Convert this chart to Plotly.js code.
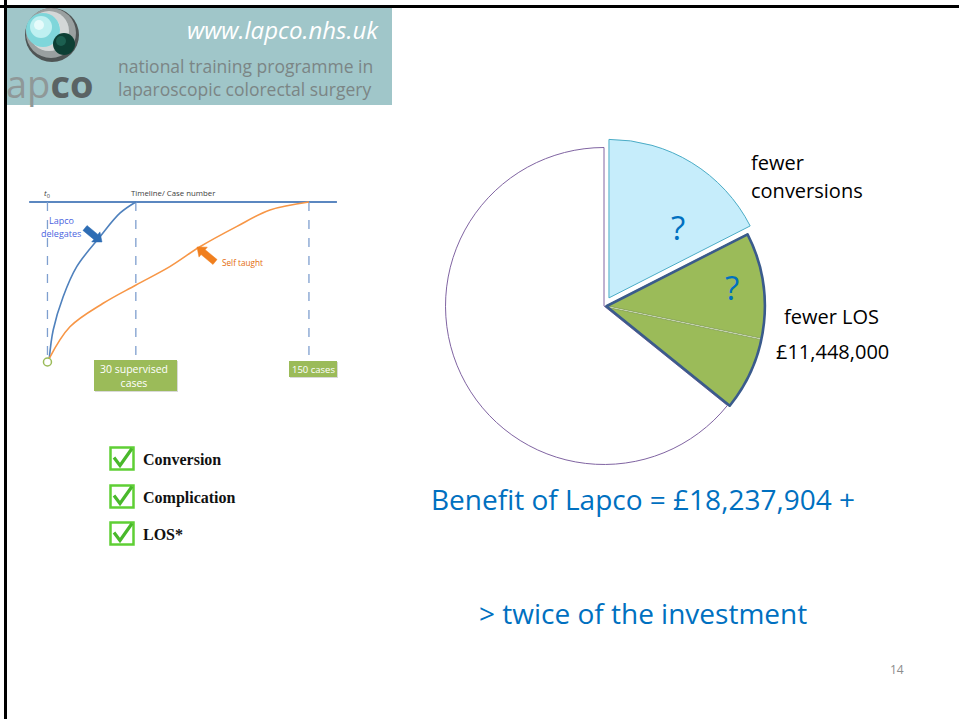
<!DOCTYPE html>
<html>
<head>
<meta charset="utf-8">
<script src="https://cdn.plot.ly/plotly-3.0.1.min.js"></script>
<style>html,body{margin:0;padding:0;background:#fff;}#chart{width:959px;height:719px;}</style>
</head>
<body>
<div id="chart"></div>
<script>
// ---------- data ----------
const sliceLabels = ['fewer conversions', 'fewer LOS (part 1)', 'fewer LOS (part 2)', 'remaining'];
const sliceShares = [17.5, 10.8, 7.5, 64.2];
const outlineLabels = ['fewer conversions', 'fewer LOS', 'remaining'];
const outlineShares = [17.5, 18.3, 64.2];
const losSaving = '£11,448,000';
const benefitText = 'Benefit of Lapco = £18,237,904 +';
const investText = '> twice of the investment';

// learning-curve schematic (x: timeline units, t0 = 0, 150 cases = 100; y: proficiency 0-100)
const lapcoX = [0.7, 2.2, 6.0, 11.2, 20.1, 27.7, 33.8];
const lapcoY = [2.3, 20, 40.8, 59.6, 78.3, 93, 100];
const selfX = [0.7, 8.6, 21.3, 33.7, 46.8, 58.3, 72.3, 85.1, 100];
const selfY = [2.3, 22, 36.7, 48, 59.6, 72, 84.6, 95, 100];
const milestoneX = [0, 33.8, 100];
const milestoneLabels = ['30 supervised<br>cases', '150 cases'];
const checkItems = ['Conversion', 'Complication', 'LOS*'];

// ---------- helpers ----------
const W = 959, H = 719;
const px = x => x / W;
const py = y => 1 - y / H;
function rectPx(x0, y0, x1, y1, fill, lineColor, lw) {
  return {type: 'rect', xref: 'paper', yref: 'paper', x0: px(x0), x1: px(x1), y0: py(y1), y1: py(y0),
    fillcolor: fill, line: {color: lineColor || 'rgba(0,0,0,0)', width: lw || 0}, layer: 'above'};
}
function linePx(x0, y0, x1, y1, color, w, dash) {
  return {type: 'line', xref: 'paper', yref: 'paper', x0: px(x0), x1: px(x1), y0: py(y0), y1: py(y1),
    line: {color: color, width: w, dash: dash || 'solid'}, layer: 'above'};
}
function circlePx(cx, cy, r, fill, lineColor, lw) {
  return {type: 'circle', xref: 'paper', yref: 'paper', x0: px(cx - r), x1: px(cx + r), y0: py(cy + r), y1: py(cy - r),
    fillcolor: fill, line: {color: lineColor || 'rgba(0,0,0,0)', width: lw || 0}, layer: 'above'};
}
function pathPx(pts, fill, lineColor, lw, closed) {
  let d = pts.map((p, i) => (i ? 'L' : 'M') + px(p[0]).toFixed(5) + ',' + py(p[1]).toFixed(5)).join(' ');
  if (closed) d += ' Z';
  return {type: 'path', xref: 'paper', yref: 'paper', path: d, fillcolor: fill || 'rgba(0,0,0,0)',
    line: {color: lineColor || 'rgba(0,0,0,0)', width: lw || 0}, layer: 'above'};
}
function blockArrow(x1, y1, x2, y2, sw, hw, hl, color) {
  const dx = x2 - x1, dy = y2 - y1, L = Math.hypot(dx, dy);
  const ux = dx / L, uy = dy / L, nx = -uy, ny = ux;
  const bx = x2 - ux * hl, by = y2 - uy * hl;
  const pts = [
    [x1 + nx * sw, y1 + ny * sw], [bx + nx * sw, by + ny * sw], [bx + nx * hw, by + ny * hw],
    [x2, y2], [bx - nx * hw, by - ny * hw], [bx - nx * sw, by - ny * sw], [x1 - nx * sw, y1 - ny * sw]
  ];
  return pathPx(pts, color, color, 0.5, true);
}
function textPx(x, y, text, size, color, opts, family) {
  return Object.assign({xref: 'paper', yref: 'paper', x: px(x), y: py(y), text: text, showarrow: false,
    xanchor: 'left', yanchor: 'middle', font: {size: size, color: color, family: family || 'Open Sans, sans-serif'}}, opts || {});
}

// ---------- pie ----------
const pieDomain = {x: [px(436), px(772)], y: [py(474), py(138)]};
const pieMain = {
  type: 'pie', labels: sliceLabels, values: sliceShares, sort: false, direction: 'clockwise', rotation: 0,
  domain: pieDomain, pull: [0.06, 0.015, 0.015, 0], textinfo: 'none', hoverinfo: 'skip', showlegend: false,
  marker: {colors: ['#c6edfb', '#9bbb59', '#9bbb59', '#ffffff'],
    line: {color: ['#4bacc6', '#7d9a52', '#7d9a52', '#8064a2'], width: [1, 0.8, 0.8, 1]}}
};
const pieOutline = {
  type: 'pie', labels: outlineLabels, values: outlineShares, sort: false, direction: 'clockwise', rotation: 0,
  domain: pieDomain, pull: [0.06, 0.015, 0], textinfo: 'none', hoverinfo: 'skip', showlegend: false,
  marker: {colors: ['rgba(0,0,0,0)', 'rgba(0,0,0,0)', 'rgba(0,0,0,0)'],
    line: {color: ['rgba(0,0,0,0)', '#3a5b8c', 'rgba(0,0,0,0)'], width: [0, 2.6, 0]}}
};

// ---------- learning curves ----------
const lapcoTrace = {type: 'scatter', mode: 'lines', x: lapcoX, y: lapcoY, xaxis: 'x', yaxis: 'y',
  line: {color: '#4f81bd', width: 1.6, shape: 'spline'}, hoverinfo: 'skip', showlegend: false};
const selfTrace = {type: 'scatter', mode: 'lines', x: selfX, y: selfY, xaxis: 'x', yaxis: 'y',
  line: {color: '#f79646', width: 1.6, shape: 'spline'}, hoverinfo: 'skip', showlegend: false};
const originTrace = {type: 'scatter', mode: 'markers', x: [0], y: [0], xaxis: 'x', yaxis: 'y',
  marker: {symbol: 'circle-open', size: 8, color: '#9bbb59', line: {width: 1.5}}, hoverinfo: 'skip', showlegend: false};

const shapes = [];
const annotations = [];

// slide frame
shapes.push(linePx(0, 6.5, 959, 6.5, '#000', 3));
shapes.push(linePx(5.5, 0, 5.5, 719, '#000', 3));

// header banner + logo
shapes.push(rectPx(7, 8, 392, 105, '#a0c6c9'));
shapes.push(circlePx(52, 35, 27, '#4f5555'));
shapes.push(circlePx(51, 33, 25, '#9aa0a0'));
shapes.push(circlePx(49, 31, 20, '#d4d8d8'));
shapes.push(circlePx(47, 29, 13, '#f3f5f5'));
shapes.push(circlePx(43, 30, 17, '#7fd6da'));
shapes.push(circlePx(41, 27, 11, '#bff0f1'));
shapes.push(circlePx(39, 25, 5, '#e6fbfb'));
shapes.push(circlePx(64, 44, 11, '#0d3f34'));
shapes.push(circlePx(61, 41, 5, '#1c5f50'));
annotations.push(textPx(4, 83, '<span style="color:#8f9898">ap</span><b><span style="color:#5a6364">co</span></b>', 38, '#8f9898'));
annotations.push(textPx(381, 30, '<i>www.lapco.nhs.uk</i>', 24, '#ffffff', {xanchor: 'right'}));
annotations.push(textPx(116, 66, 'national training programme in', 17.5, '#7b8585'));
annotations.push(textPx(116, 89, 'laparoscopic colorectal surgery', 17.5, '#7b8585'));

// learning curve decorations
shapes.push({type: 'line', xref: 'x', yref: 'y', x0: -7, x1: 110.7, y0: 100, y1: 100, line: {color: '#5b87c0', width: 2}, layer: 'below'});
const dashBottoms = [3, -1, -0.3];
milestoneX.forEach((mx, i) => shapes.push({type: 'line', xref: 'x', yref: 'y', x0: mx, x1: mx, y0: 100, y1: dashBottoms[i],
  line: {color: '#7f9fcf', width: 1.3, dash: 'dash'}, layer: 'below'}));
shapes.push(rectPx(95, 361, 178, 392, '#d9d9d9'));
shapes.push(rectPx(94, 360, 177, 391, '#9bbb59'));
shapes.push(rectPx(290, 362, 338, 378, '#d9d9d9'));
shapes.push(rectPx(289, 361, 337, 377, '#9bbb59'));
annotations.push(textPx(134, 375.5, milestoneLabels[0], 10.5, '#ffffff', {xanchor: 'center'}));
annotations.push(textPx(313, 369, milestoneLabels[1], 9.5, '#ffffff', {xanchor: 'center'}));
shapes.push(blockArrow(85, 228, 102, 242, 3.2, 6.5, 8, '#2e6db4'));
shapes.push(blockArrow(215, 262, 197, 247, 3.2, 6.5, 8, '#f07f1e'));
annotations.push(textPx(47, 193, '<i>t</i><sub>0</sub>', 8, '#404040', {xanchor: 'center'}));
annotations.push(textPx(173, 193, 'Timeline/ Case number', 7.8, '#404040', {xanchor: 'center'}));
annotations.push(textPx(61, 220, 'Lapco', 9, '#4a63e0', {xanchor: 'center'}));
annotations.push(textPx(61, 233, 'delegates', 9, '#4a63e0', {xanchor: 'center'}));
annotations.push(textPx(220, 262, 'Self taught', 8.2, '#e36c0a'));

// checklist
const checkY = [458.5, 496.5, 533.5];
checkItems.forEach((t, i) => {
  const cy = checkY[i];
  shapes.push(rectPx(110.5, cy - 11, 133.5, cy + 11, '#ffffff', '#5fcf35', 2.5));
  shapes.push(pathPx([[114, cy - 1], [120, cy + 7], [132, cy - 10]], null, '#49b82b', 3.2, false));
  annotations.push(textPx(141, cy + 1, '<b>' + t + '</b>', 16, '#111', {}, 'Liberation Serif, serif'));
});

// pie labels
annotations.push(textPx(678, 228, '?', 33, '#0070c0', {xanchor: 'center'}));
annotations.push(textPx(732, 287, '?', 33, '#0070c0', {xanchor: 'center'}));
annotations.push(textPx(749, 162, 'fewer', 20, '#000'));
annotations.push(textPx(749, 190, 'conversions', 20, '#000'));
annotations.push(textPx(782, 316, 'fewer LOS', 20, '#000'));
annotations.push(textPx(774, 351, losSaving, 20, '#000'));
annotations.push(textPx(643, 499, benefitText, 28, '#0070c0', {xanchor: 'center'}));
annotations.push(textPx(643, 613, investText, 28, '#0070c0', {xanchor: 'center'}));
annotations.push(textPx(897, 669, '14', 12, '#8c8c8c', {xanchor: 'center'}));

const layout = {
  width: W, height: H, autosize: false, margin: {l: 0, r: 0, t: 0, b: 0},
  paper_bgcolor: '#ffffff', plot_bgcolor: 'rgba(0,0,0,0)', showlegend: false,
  xaxis: {domain: [px(20), px(350)], range: [-10.5, 115.7], visible: false, fixedrange: true},
  yaxis: {domain: [py(400), py(180)], range: [-23.75, 113.75], visible: false, fixedrange: true},
  shapes: shapes, annotations: annotations
};
Plotly.newPlot('chart', [pieMain, pieOutline, lapcoTrace, selfTrace, originTrace], layout, {staticPlot: true});
</script>
</body>
</html>
